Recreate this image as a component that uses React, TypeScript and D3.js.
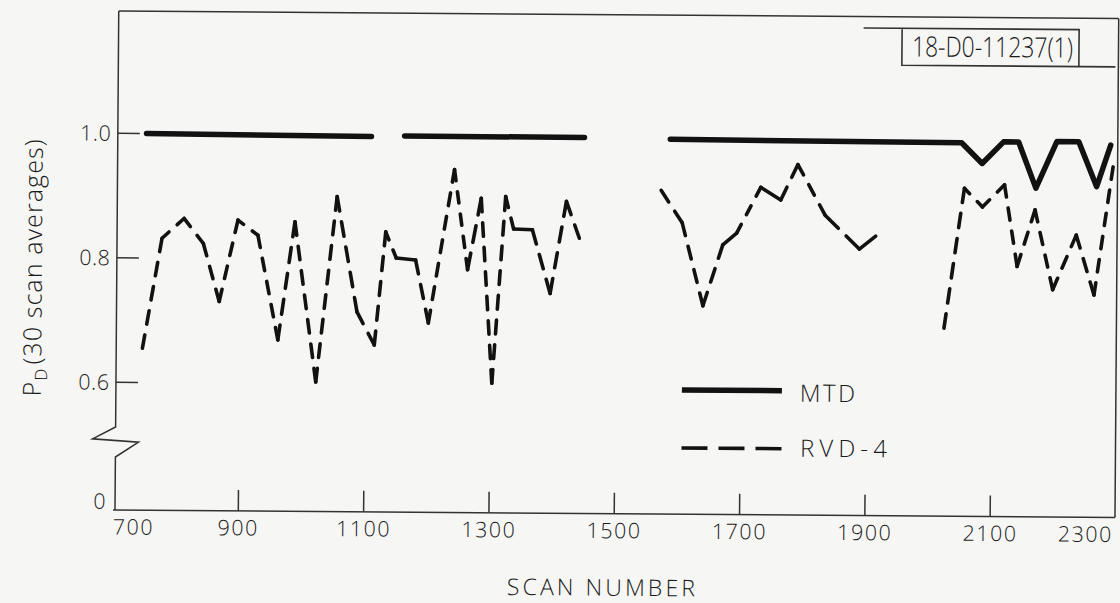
import React from "react";
import * as d3 from "d3";

// ---- data ----
const xTickValues = [900, 1100, 1300, 1500, 1700, 1900, 2100];
const xTickLabels = ["700", "900", "1100", "1300", "1500", "1700", "1900", "2100", "2300"];
const xLabelValues = [700, 900, 1100, 1300, 1500, 1700, 1900, 2100, 2300];
const yTickValues = [0.6, 0.8, 1.0];
const yTickLabels = ["0.6", "0.8", "1.0"];

// MTD (solid, thick) - [scan number, PD]
const mtdSeg1 = [[749, 1.0], [1108, 0.998]];
const mtdSeg2 = [[1161, 0.999], [1448, 0.999]];
const mtdSeg3 = [
  [1585, 0.997], [1800, 0.996], [2050, 0.995], [2083, 0.962], [2117, 0.997],
  [2141, 0.997], [2169, 0.923], [2202, 0.998], [2237, 0.998], [2266, 0.926], [2288, 0.993],
];

// RVD-4 (dashed)
const rvdSeg1 = [
  [745, 0.655], [775, 0.832], [810, 0.864], [841, 0.824], [867, 0.731], [896, 0.862],
  [928, 0.838], [961, 0.67], [987, 0.86], [1022, 0.603], [1054, 0.901], [1087, 0.716],
  [1115, 0.663], [1132, 0.845], [1149, 0.803], [1180, 0.8], [1201, 0.699], [1241, 0.946],
  [1263, 0.785], [1284, 0.9], [1303, 0.603], [1323, 0.903], [1336, 0.851], [1366, 0.85],
  [1395, 0.748], [1420, 0.896], [1441, 0.837],
];
const rvdSeg2 = [
  [1571, 0.915], [1605, 0.863], [1639, 0.73], [1670, 0.828], [1692, 0.847], [1730, 0.921],
  [1762, 0.901], [1789, 0.958], [1833, 0.877], [1888, 0.823], [1914, 0.844],
];
const rvdSeg3 = [
  [2024, 0.697], [2055, 0.922], [2084, 0.892], [2119, 0.928], [2140, 0.797], [2168, 0.888],
  [2197, 0.76], [2234, 0.848], [2263, 0.752], [2292, 0.958],
];

const legendLabels = ["MTD", "RVD-4"];
const stampText = "18-D0-11237(1)";
const xTitle = "SCAN NUMBER";

const FONT = "'Open Sans', 'DejaVu Sans', sans-serif";
const INK = "#121212";
const AXIS = "#333333";
const TEXT = "#1a1a1a";

export default function App() {
  const W = 1120, H = 603;
  const left = 115, right = 1115, top = 11, bottom = 510;
  const x = d3.scaleLinear().domain([700, 2300]).range([113, 1115.5]);
  const y = d3.scaleLinear().domain([0.6, 1.0]).range([382.3, 133.3]);
  const line = d3.line<number[]>().x((d) => x(d[0])).y((d) => y(d[1]));

  const mtdSegs = [mtdSeg1, mtdSeg2, mtdSeg3];
  const rvdSegs = [rvdSeg1, rvdSeg2, rvdSeg3];

  // hand-drafted style dashes: each straight piece gets whole dashes, starting & ending solid
  const dashPieces: JSX.Element[] = [];
  rvdSegs.forEach((seg, si) => {
    for (let i = 0; i < seg.length - 1; i++) {
      const x0 = x(seg[i][0]), y0 = y(seg[i][1]);
      const x1 = x(seg[i + 1][0]), y1 = y(seg[i + 1][1]);
      const L = Math.hypot(x1 - x0, y1 - y0);
      const gap = 11, dash = 13;
      const n = Math.max(1, Math.round((L + gap) / (dash + gap)));
      const d = Math.max(1, (L - (n - 1) * gap) / n);
      dashPieces.push(
        <line key={`r${si}-${i}`} x1={x0} y1={y0} x2={x1} y2={y1}
          stroke={INK} strokeWidth={3.6} strokeLinecap="round"
          strokeDasharray={n === 1 ? undefined : `${d} ${gap}`} />
      );
    }
  });

  const breakPath = `M${left},${top} L${left},427 L92,439 L138,442 L${left},457 L${left},${bottom}`;

  return (
    <svg width={W} height={H} style={{ position: "absolute", left: 0, top: 0, background: "#f6f6f4" }}
      fontFamily={FONT}>
      <rect x={0} y={0} width={W} height={H} fill="#f6f6f4" />
      <g transform={`rotate(0.43, ${left}, ${bottom})`}>
        {/* frame */}
        <path d={breakPath} fill="none" stroke={AXIS} strokeWidth={1.5} />
        <line x1={113} y1={bottom} x2={right} y2={bottom} stroke={AXIS} strokeWidth={1.5} />
        <line x1={left} y1={top} x2={right} y2={top} stroke={AXIS} strokeWidth={1.5} />
        <line x1={right} y1={top} x2={right} y2={bottom} stroke={AXIS} strokeWidth={1.5} />

        {/* x ticks (inward) */}
        {xTickValues.map((v) => (
          <line key={`xt${v}`} x1={x(v)} x2={x(v)} y1={bottom} y2={bottom - 21} stroke={AXIS} strokeWidth={1.5} />
        ))}
        {xLabelValues.map((v, i) => {
          const anchor = i === 0 ? "start" : i === xLabelValues.length - 1 ? "end" : "middle";
          const px = i === 0 ? x(v) : i === xLabelValues.length - 1 ? x(v) - 2.5 : x(v);
          return (
            <text key={`xl${v}`} x={px} y={bottom + 24.5} textAnchor={anchor} fontSize={21.5}
              fontWeight={300} fill={TEXT} letterSpacing={1.5}>{xTickLabels[i]}</text>
          );
        })}

        {/* y ticks (inward) */}
        {yTickValues.map((v, i) => (
          <g key={`yt${v}`}>
            <line x1={left} x2={left + 22} y1={y(v)} y2={y(v)} stroke={AXIS} strokeWidth={1.5} />
            <text x={108.5} y={y(v) + 7.5} textAnchor="end" fontSize={21.5} fontWeight={300}
              fill={TEXT} letterSpacing={0.5}>{yTickLabels[i]}</text>
          </g>
        ))}
        <text x={105.5} y={509} textAnchor="end" fontSize={21.5} fontWeight={300} fill={TEXT}>0</text>

        {/* axis titles */}
        <text x={601.5} y={592} textAnchor="middle" fontSize={23} fontWeight={300} fill={TEXT}
          textLength={188} lengthAdjust="spacing">{xTitle}</text>
        <text transform="translate(40,397) rotate(-90)" textAnchor="start" fontSize={25}
          fontWeight={300} fill={TEXT} letterSpacing={1.1}>
          P<tspan fontSize={17} dy={6}>D</tspan><tspan dy={-6} dx={3}>(30 scan averages)</tspan>
        </text>

        {/* data */}
        {mtdSegs.map((seg, i) => (
          <path key={`m${i}`} d={line(seg) || ""} fill="none" stroke={INK} strokeWidth={5.5}
            strokeLinejoin="round" strokeLinecap="round" />
        ))}
        {dashPieces}

        {/* legend */}
        <line x1={681} x2={781} y1={385.7} y2={385.7} stroke={INK} strokeWidth={5.5} />
        <line x1={681} x2={781} y1={443.7} y2={443.7} stroke={INK} strokeWidth={3.6}
          strokeDasharray="26 11" />
        <text x={799} y={396.5} fontSize={24} fontWeight={300} fill={TEXT} textLength={55}
          lengthAdjust="spacing">{legendLabels[0]}</text>
        <text x={799.5} y={451.5} fontSize={24} fontWeight={300} fill={TEXT} textLength={87}
          lengthAdjust="spacing">{legendLabels[1]}</text>

        {/* stamp box */}
        <path d="M860,22.4 L1075.5,22.4 L1075.5,59.4 M898.5,22.4 L898.5,59.4 L1112,59.4"
          fill="none" stroke={AXIS} strokeWidth={1.6} />
        <text x={989} y={50.5} textAnchor="middle" fontSize={28} fontWeight={300} fill={TEXT}
          textLength={161} lengthAdjust="spacingAndGlyphs">{stampText}</text>
      </g>
    </svg>
  );
}
